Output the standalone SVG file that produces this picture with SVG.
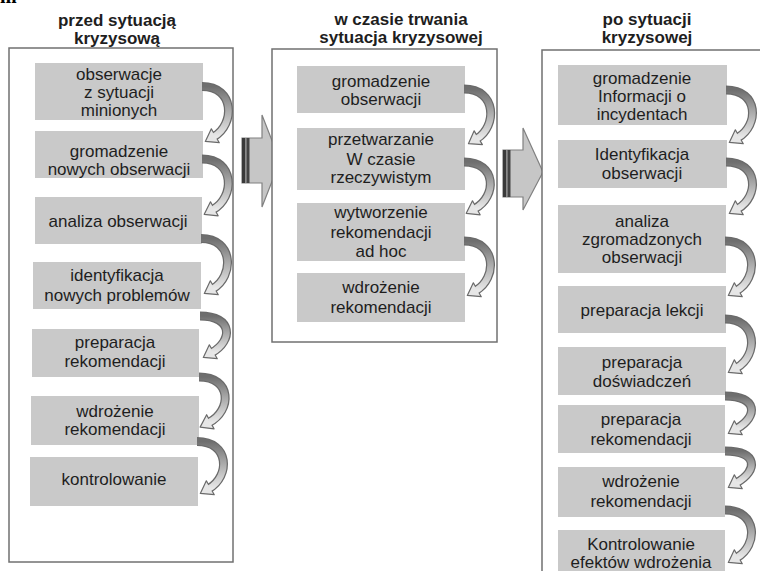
<svg xmlns="http://www.w3.org/2000/svg" width="760" height="571" viewBox="0 0 760 571">
<style>
.frame{fill:#fff;stroke:#707070;stroke-width:1.5}
.box{fill:#c9c9c9}
.t{font-family:"Liberation Sans",Arial,sans-serif;font-size:17px;fill:#1e1e1e;text-anchor:middle}
.h{font-weight:bold}
.ro{fill:none;stroke:#6a6a6a;stroke-width:9;marker-end:url(#ah)}
.ri{fill:none;stroke:url(#rg);stroke-width:6.5}
.blk{fill:#c6c6c6;stroke:#808080;stroke-width:1.2}
</style>
<defs>
<linearGradient id="rg" x1="0" y1="0" x2="0" y2="1">
<stop offset="0" stop-color="#6e6e6e"/>
<stop offset="0.45" stop-color="#a8a8a8"/>
<stop offset="1" stop-color="#e8e8e8"/>
</linearGradient>
<marker id="ah" markerUnits="userSpaceOnUse" orient="auto" markerWidth="26" markerHeight="26" viewBox="-6 -13 26 26" refX="0" refY="0" overflow="visible">
<path d="M-1.5,-8 L10,0 L-1.5,8 Z" fill="#e6e6e6" stroke="#6a6a6a" stroke-width="1.2" stroke-linejoin="round"/>
</marker>
</defs>
<rect width="760" height="571" fill="#fff"/>
<text x="0" y="2.5" font-family="Liberation Serif,serif" font-weight="bold" font-size="20" fill="#000">m</text>

<g id="phase-arrows">
<path class="blk" d="M242,138 H262 V115 L280,161 L262,207 V183 H242 Z"/>
<rect x="242" y="138" width="3" height="45" fill="#3a3a3a"/>
<rect x="245" y="138" width="1.5" height="45" fill="#8a8a8a"/>
<rect x="246.5" y="138" width="3" height="45" fill="#444"/>
<path class="blk" d="M503,150 H523 V128 L543,172 L523,210 V197 H503 Z"/>
<rect x="503" y="150" width="3" height="47" fill="#3a3a3a"/>
<rect x="506" y="150" width="1.5" height="47" fill="#8a8a8a"/>
<rect x="507.5" y="150" width="3" height="47" fill="#444"/>
</g>

<g id="phase-before">
<rect class="frame" x="9" y="48" width="224" height="514"/>
<text class="t h" x="117" y="26">przed sytuacją</text>
<text class="t h" x="117" y="44">kryzysową</text>
</g>
<g id="phase-during">
<rect class="frame" x="272" y="49" width="225" height="293"/>
<text class="t h" x="401" y="25">w czasie trwania</text>
<text class="t h" x="401" y="43">sytuacja kryzysowej</text>
</g>
<g id="phase-after">
<rect class="frame" x="542" y="50" width="240" height="540"/>
<text class="t h" x="647" y="25">po sytuacji</text>
<text class="t h" x="647" y="43">kryzysowej</text>
</g>

<g id="b1"><rect class="box" x="35" y="63" width="168" height="57"/><text class="t" x="119" y="80">obserwacje</text><text class="t" x="119" y="98">z sytuacji</text><text class="t" x="119" y="116">minionych</text></g>
<g id="b2"><rect class="box" x="35" y="131" width="168" height="47"/><text class="t" x="119" y="157">gromadzenie</text><text class="t" x="119" y="175">nowych obserwacji</text></g>
<g id="b3"><rect class="box" x="35" y="197" width="167" height="47"/><text class="t" x="118" y="227">analiza obserwacji</text></g>
<g id="b4"><rect class="box" x="33" y="262" width="168" height="47"/><text class="t" x="117" y="281">identyfikacja</text><text class="t" x="117" y="301">nowych problemów</text></g>
<g id="b5"><rect class="box" x="32" y="329" width="167" height="48"/><text class="t" x="115" y="348">preparacja</text><text class="t" x="115" y="367">rekomendacji</text></g>
<g id="b6"><rect class="box" x="31" y="396" width="168" height="49"/><text class="t" x="115" y="417">wdrożenie</text><text class="t" x="115" y="435">rekomendacji</text></g>
<g id="b7"><rect class="box" x="30" y="457" width="168" height="49"/><text class="t" x="114" y="485">kontrolowanie</text></g>

<g id="m1"><rect class="box" x="297" y="66" width="168" height="47"/><text class="t" x="381" y="87">gromadzenie</text><text class="t" x="381" y="105">obserwacji</text></g>
<g id="m2"><rect class="box" x="297" y="128" width="168" height="62"/><text class="t" x="381" y="145">przetwarzanie</text><text class="t" x="381" y="165">W czasie</text><text class="t" x="381" y="183">rzeczywistym</text></g>
<g id="m3"><rect class="box" x="297" y="203" width="168" height="58"/><text class="t" x="381" y="218">wytworzenie</text><text class="t" x="381" y="238">rekomendacji</text><text class="t" x="381" y="257">ad hoc</text></g>
<g id="m4"><rect class="box" x="297" y="273" width="168" height="49"/><text class="t" x="381" y="293">wdrożenie</text><text class="t" x="381" y="313">rekomendacji</text></g>

<g id="r1"><rect class="box" x="558" y="65" width="169" height="60"/><text class="t" x="642" y="84">gromadzenie</text><text class="t" x="642" y="102">Informacji o</text><text class="t" x="642" y="120">incydentach</text></g>
<g id="r2"><rect class="box" x="558" y="140" width="169" height="48"/><text class="t" x="642" y="160">Identyfikacja</text><text class="t" x="642" y="179">obserwacji</text></g>
<g id="r3"><rect class="box" x="558" y="205" width="168" height="68"/><text class="t" x="642" y="227">analiza</text><text class="t" x="642" y="245">zgromadzonych</text><text class="t" x="642" y="263">obserwacji</text></g>
<g id="r4"><rect class="box" x="558" y="286" width="168" height="47"/><text class="t" x="642" y="316">preparacja lekcji</text></g>
<g id="r5"><rect class="box" x="558" y="347" width="168" height="48"/><text class="t" x="642" y="368">preparacja</text><text class="t" x="642" y="387">doświadczeń</text></g>
<g id="r6"><rect class="box" x="558" y="405" width="167" height="48"/><text class="t" x="641" y="425">preparacja</text><text class="t" x="641" y="445">rekomendacji</text></g>
<g id="r7"><rect class="box" x="558" y="467" width="167" height="50"/><text class="t" x="641" y="487">wdrożenie</text><text class="t" x="641" y="507">rekomendacji</text></g>
<g id="r8"><rect class="box" x="558" y="530" width="167" height="60"/><text class="t" x="641" y="550">Kontrolowanie</text><text class="t" x="641" y="568">efektów wdrożenia</text></g>

<g id="connectors">
<path class="ro" d="M202,86.5 C235,86.5 235,124.5 214,136.5"/><path class="ri" d="M202,86.5 C235,86.5 235,124.5 214,136.5"/>
<path class="ro" d="M202,159 C235,159 235,197.5 213,209.5"/><path class="ri" d="M202,159 C235,159 235,197.5 213,209.5"/>
<path class="ro" d="M201,238.5 C234,238.5 234,276.5 213,288.5"/><path class="ri" d="M201,238.5 C234,238.5 234,276.5 213,288.5"/>
<path class="ro" d="M200,316 C233,316 233,340.5 212,352.5"/><path class="ri" d="M200,316 C233,316 233,340.5 212,352.5"/>
<path class="ro" d="M199,377 C232,377 232,410.5 209,422.5"/><path class="ri" d="M199,377 C232,377 232,410.5 209,422.5"/>
<path class="ro" d="M197,441.5 C230,441.5 230,476.5 209,488.5"/><path class="ri" d="M197,441.5 C230,441.5 230,476.5 209,488.5"/>
<path class="ro" d="M464,89 C497,89 497,126.5 477,138.5"/><path class="ri" d="M464,89 C497,89 497,126.5 477,138.5"/>
<path class="ro" d="M464,162 C497,162 497,196.5 475,208.5"/><path class="ri" d="M464,162 C497,162 497,196.5 475,208.5"/>
<path class="ro" d="M464,241 C497,241 497,278.5 476,290.5"/><path class="ri" d="M464,241 C497,241 497,278.5 476,290.5"/>
<path class="ro" d="M726,90 C759,90 759,125.5 738,137.5"/><path class="ri" d="M726,90 C759,90 759,125.5 738,137.5"/>
<path class="ro" d="M726,162 C759,162 759,196.5 738,208.5"/><path class="ri" d="M726,162 C759,162 759,196.5 738,208.5"/>
<path class="ro" d="M725,241 C758,241 758,278.5 737,290.5"/><path class="ri" d="M725,241 C758,241 758,278.5 737,290.5"/>
<path class="ro" d="M725,319 C758,319 758,355.5 737,367.5"/><path class="ri" d="M725,319 C758,319 758,355.5 737,367.5"/>
<path class="ro" d="M725,396 C758,396 758,416.5 737,428.5"/><path class="ri" d="M725,396 C758,396 758,416.5 737,428.5"/>
<path class="ro" d="M725,451 C758,451 758,470.5 737,482.5"/><path class="ri" d="M725,451 C758,451 758,470.5 737,482.5"/>
<path class="ro" d="M725,510 C758,510 758,545.5 737,557.5"/><path class="ri" d="M725,510 C758,510 758,545.5 737,557.5"/>
</g>
</svg>
